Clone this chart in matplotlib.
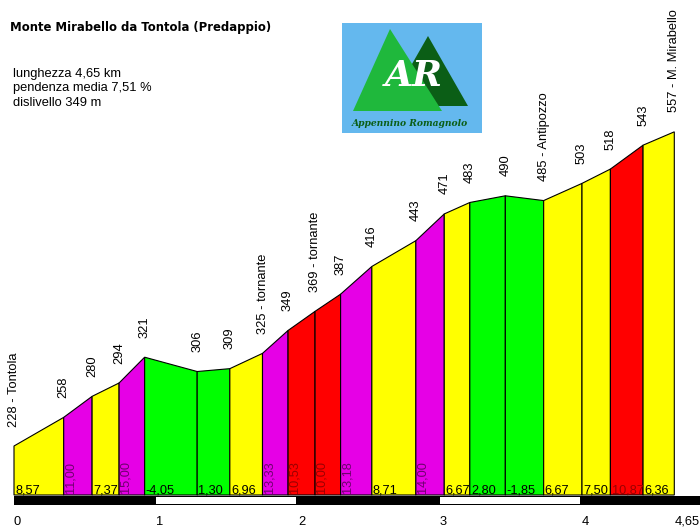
import numpy as np
import matplotlib.pyplot as plt
from matplotlib.patches import Polygon, Rectangle

# profilo altimetrico
km = [0, 0.35, 0.55, 0.74, 0.92, 1.29, 1.52, 1.75, 1.93, 2.12, 2.30,
      2.52, 2.83, 3.03, 3.21, 3.46, 3.73, 4.00, 4.20, 4.43, 4.65]
quota = [228, 258, 280, 294, 321, 306, 309, 325, 349, 369, 387,
         416, 443, 471, 483, 490, 485, 503, 518, 543, 557]
pendenza = [8.57, 11.00, 7.37, 15.00, -4.05, 1.30, 6.96, 13.33, 10.53, 10.00,
            13.18, 8.71, 14.00, 6.67, 2.80, -1.85, 6.67, 7.50, 10.87, 6.36]
verticale = [False, True, False, True, False, False, False, True, True, True,
             True, False, True, False, False, False, False, False, False, False]
nomi = {0: "Tontola", 7: "tornante", 9: "tornante", 16: "Antipozzo", 20: "M. Mirabello"}
km_ticks = [0, 1, 2, 3, 4, 4.65]

titolo = "Monte Mirabello da Tontola (Predappio)"
info = ["lunghezza 4,65 km", "pendenza media 7,51 %", "dislivello 349 m"]

plt.rcParams['font.family'] = ['Liberation Sans', 'DejaVu Sans']


def colore(p):
    if p < 5:
        return '#00ff00', 'black'
    if p < 10:
        return '#ffff00', 'black'
    if p < 11:
        return '#ff0000', '#9a0000'
    return '#e600e6', '#6e006e'


base = 176.7
fig = plt.figure(figsize=(7, 5.31), dpi=100)
ax = fig.add_axes([0, 0, 1, 1])
ax.set_xlim(-14 / 142, 686 / 142)
ax.set_ylim(base - 36 / 0.955, base + 495 / 0.955)
ax.axis('off')

for i, p in enumerate(pendenza):
    fc, tc = colore(p)
    x0, x1 = km[i], km[i + 1]
    poly = Polygon([(x0, base), (x0, quota[i]), (x1, quota[i + 1]), (x1, base)],
                   closed=True, facecolor=fc, edgecolor='black', linewidth=0.8)
    ax.add_patch(poly)
    testo = f"{p:.2f}".replace('.', ',')
    if verticale[i]:
        ax.text(x0 + 0.005, base + 2.5, testo, rotation=90, ha='left', va='bottom',
                fontsize=9.2, color=tc)
    else:
        ax.text(x0 + 0.008, base + 1.2, testo, ha='left', va='baseline',
                fontsize=9.2, color=tc)

for i, (x, q) in enumerate(zip(km, quota)):
    lab = str(q)
    if i in nomi:
        lab += " - " + nomi[i]
    ax.annotate(lab, (x, q), xytext=(0, 14), textcoords='offset points',
                rotation=90, ha='center', va='bottom', fontsize=9.3)

# barra chilometrica
ax.add_patch(Rectangle((0, base - 10 / 0.955), 5, 9.5 / 0.955,
                       facecolor='black', edgecolor='none'))
for k in (1, 3):
    ax.add_patch(Rectangle((k, base - 8.5 / 0.955), 0.985, 6.5 / 0.955,
                           facecolor='white', edgecolor='none'))
for t in km_ticks:
    ax.text(t, base - 27 / 0.955, f"{t:g}".replace('.', ','), ha='left', va='center',
            fontsize=9.3)

fig.text(10 / 700, 1 - 28 / 531, titolo, fontsize=8.4, fontweight='bold', va='center',
         family='DejaVu Sans')
for j, riga in enumerate(info):
    fig.text(13 / 700, 1 - (74 + 14.5 * j) / 531, riga, fontsize=9.3, va='center')

# logo
lg = fig.add_axes([342 / 700, 1 - 133 / 531, 140 / 700, 110 / 531])
lg.set_xlim(0, 140)
lg.set_ylim(110, 0)
lg.axis('off')
lg.add_patch(Rectangle((0, 0), 140, 110, facecolor='#64b8ee', edgecolor='none'))
lg.add_patch(Polygon([(46, 83), (86, 13), (126, 83)], facecolor='#0b5e16', edgecolor='none'))
lg.add_patch(Polygon([(11, 88), (48, 6), (100, 88)], facecolor='#1fb83c', edgecolor='none'))
lg.text(72, 53, "AR", color='white', fontsize=26, fontweight='bold', fontstyle='italic',
        family='DejaVu Serif', ha='center', va='center')
lg.text(68, 100, "Appennino Romagnolo", color='#0b5e16', fontsize=6.6, fontweight='bold',
        fontstyle='italic', family='DejaVu Serif', ha='center', va='center')

fig.savefig("out.png", dpi=100)
